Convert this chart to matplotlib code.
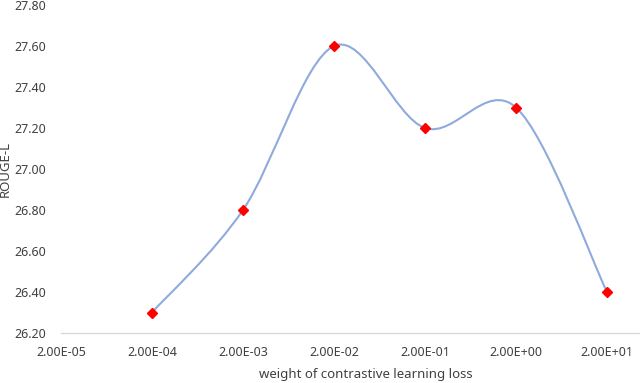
import numpy as np
import matplotlib
matplotlib.use("Agg")
import matplotlib.pyplot as plt
from matplotlib.path import Path
from matplotlib.patches import PathPatch

# categories on the x axis and ROUGE-L scores (first category has no value)
categories = ["2.00E-05", "2.00E-04", "2.00E-03", "2.00E-02",
              "2.00E-01", "2.00E+00", "2.00E+01"]
point_idx = [1, 2, 3, 4, 5, 6]
rouge_l = [26.30, 26.80, 27.60, 27.20, 27.30, 26.40]
y_ticks = [26.20, 26.40, 26.60, 26.80, 27.00, 27.20, 27.40, 27.60, 27.80]

plt.rcParams['font.family'] = ['Noto Sans', 'DejaVu Sans']

fig = plt.figure(figsize=(6.4, 3.83), dpi=100)
ax = fig.add_axes([61 / 640, 1 - 333 / 383, 610 / 640, 328 / 383])

# smoothed line like Excel (cubic bezier, catmull-rom style control points)
pts = np.column_stack([point_idx, rouge_l]).astype(float)
verts = [tuple(pts[0])]
codes = [Path.MOVETO]
n = len(pts)
for i in range(n - 1):
    p0 = pts[max(i - 1, 0)]
    p1 = pts[i]
    p2 = pts[i + 1]
    p3 = pts[min(i + 2, n - 1)]
    c1 = p1 + (p2 - p0) / 6
    c2 = p2 - (p3 - p1) / 6
    verts += [tuple(c1), tuple(c2), tuple(p2)]
    codes += [Path.CURVE4] * 3
ax.add_patch(PathPatch(Path(verts, codes), facecolor="none",
                       edgecolor="#8faadc", lw=1.5, zorder=2))

ax.plot(point_idx, rouge_l, linestyle="none", marker="D", color="#ff0000",
        markersize=5.5, zorder=3)

ax.set_xlim(0, 610 / 91)
ax.set_ylim(26.20, 27.80)
ax.set_xticks(range(len(categories)))
ax.set_xticklabels(categories)
ax.set_yticks(y_ticks)
ax.set_yticklabels([f"{v:.2f}" for v in y_ticks])
ax.tick_params(length=0, labelsize=9, colors="#404040")
ax.tick_params(axis="x", pad=9)
ax.tick_params(axis="y", pad=11)

for s in ["top", "right", "left"]:
    ax.spines[s].set_visible(False)
ax.spines["bottom"].set_color("#d9d9d9")
ax.spines["bottom"].set_linewidth(1.0)

ax.set_xlabel("weight of contrastive learning loss", fontsize=9.5,
              color="#404040", labelpad=7)
ax.set_ylabel("ROUGE-L", fontsize=9.5, color="#404040")
ax.yaxis.set_label_coords(-0.080, 0.5)

fig.savefig("out.png", dpi=100)
